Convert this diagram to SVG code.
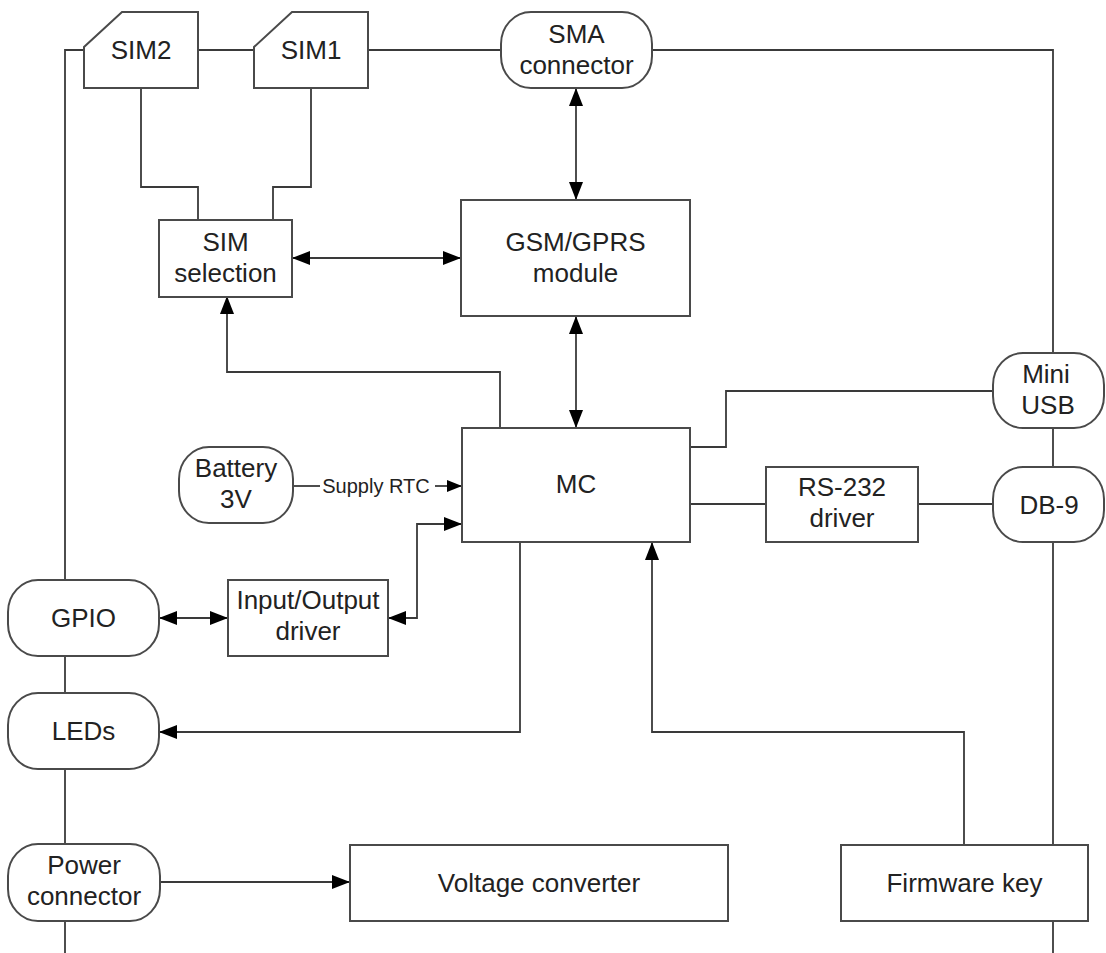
<svg xmlns="http://www.w3.org/2000/svg" width="1106" height="953" viewBox="0 0 1106 953">
<style>
.n{fill:#fff;stroke:#4a4a4a;stroke-width:2}
.t{font-family:"Liberation Sans",Arial,sans-serif;font-size:26px;fill:#222;text-anchor:middle}
.s{font-family:"Liberation Sans",Arial,sans-serif;font-size:20px;fill:#222;text-anchor:middle}
.c{fill:none;stroke:#3a3a3a;stroke-width:1.8}
.a{marker-end:url(#ah)}
.b{marker-start:url(#ah);marker-end:url(#ah)}
.as{marker-end:url(#ahs)}
</style>
<defs>
<marker id="ah" viewBox="0 0 18 14" refX="18" refY="7" markerWidth="18" markerHeight="14" markerUnits="userSpaceOnUse" orient="auto-start-reverse">
<path d="M0,0 L18,7 L0,14 z" fill="#000"/>
</marker>
<marker id="ahs" viewBox="0 0 15 12" refX="15" refY="6" markerWidth="15" markerHeight="12" markerUnits="userSpaceOnUse" orient="auto">
<path d="M0,0 L15,6 L0,12 z" fill="#000"/>
</marker>
</defs>
<rect width="1106" height="953" fill="#fff"/>
<g id="connectors">
<path class="c" d="M84,50 H65 V580"/>
<path class="c" d="M65,656 V693"/>
<path class="c" d="M65,769 V844"/>
<path class="c" d="M65,921 V953"/>
<path class="c" d="M198,50 H254"/>
<path class="c" d="M368,50 H501"/>
<path class="c" d="M652,50 H1053 V353"/>
<path class="c" d="M1053,428 V467"/>
<path class="c" d="M1053,542 V845"/>
<path class="c" d="M1053,921 V953"/>
<path class="c" d="M141,88 V187 H198 V220"/>
<path class="c" d="M311,88 V187 H273 V220"/>
<path class="c b" d="M576,88 V200"/>
<path class="c b" d="M292,258 H461"/>
<path class="c b" d="M576,316 V428"/>
<path class="c a" d="M576,428 H500 V372 H227 V296"/>
<path class="c" d="M993,391 H726 V447 H690 V504"/>
<path class="c" d="M690,504 H766"/>
<path class="c" d="M918,504 H993"/>
<path class="c" d="M293,486 H320"/>
<path class="c as" d="M435,486 H462"/>
<text class="s" x="376" y="493">Supply RTC</text>
<path class="c b" d="M462,524 H417 V618 H388"/>
<path class="c b" d="M159,618 H228"/>
<path class="c a" d="M576,542 H520 V732 H159"/>
<path class="c a" d="M964,845 V732 H652 V542"/>
<path class="c a" d="M160,882 H350"/>
</g>
<g id="sim2">
<polygon class="n" points="122,12 198,12 198,88 84,88 84,47"/>
<text class="t" x="141" y="59">SIM2</text>
</g>
<g id="sim1">
<polygon class="n" points="292,12 368,12 368,88 254,88 254,47"/>
<text class="t" x="311" y="59">SIM1</text>
</g>
<g id="sma">
<rect class="n" x="501" y="12" width="151" height="76" rx="30" ry="32"/>
<text class="t" x="576.5" y="43">SMA</text>
<text class="t" x="576.5" y="74">connector</text>
</g>
<g id="simsel">
<rect class="n" x="159" y="220" width="133" height="77"/>
<text class="t" x="225.5" y="251">SIM</text>
<text class="t" x="225.5" y="282">selection</text>
</g>
<g id="gsm">
<rect class="n" x="461" y="200" width="229" height="116"/>
<text class="t" x="575.5" y="251">GSM/GPRS</text>
<text class="t" x="575.5" y="282">module</text>
</g>
<g id="mc">
<rect class="n" x="462" y="428" width="228" height="114" fill-opacity="0"/>
<text class="t" x="576" y="493">MC</text>
</g>
<g id="miniusb">
<rect class="n" x="993" y="353" width="111" height="75" rx="30" ry="32"/>
<text class="t" x="1046" y="383">Mini</text>
<text class="t" x="1048" y="414">USB</text>
</g>
<g id="db9">
<rect class="n" x="993" y="467" width="111" height="75" rx="30" ry="32"/>
<text class="t" x="1049" y="514">DB-9</text>
</g>
<g id="rs232">
<rect class="n" x="766" y="467" width="152" height="75"/>
<text class="t" x="842" y="496">RS-232</text>
<text class="t" x="842" y="527">driver</text>
</g>
<g id="battery">
<rect class="n" x="179" y="447" width="114" height="76" rx="30" ry="32"/>
<text class="t" x="236" y="477">Battery</text>
<text class="t" x="236" y="508">3V</text>
</g>
<g id="gpio">
<rect class="n" x="8" y="580" width="151" height="76" rx="30" ry="32"/>
<text class="t" x="83.5" y="627">GPIO</text>
</g>
<g id="iodriver">
<rect class="n" x="228" y="580" width="160" height="76"/>
<text class="t" x="308" y="609">Input/Output</text>
<text class="t" x="308" y="640">driver</text>
</g>
<g id="leds">
<rect class="n" x="8" y="693" width="151" height="76" rx="30" ry="32"/>
<text class="t" x="83.5" y="740">LEDs</text>
</g>
<g id="power">
<rect class="n" x="8" y="844" width="152" height="77" rx="30" ry="32"/>
<text class="t" x="84" y="874">Power</text>
<text class="t" x="84" y="905">connector</text>
</g>
<g id="voltage">
<rect class="n" x="350" y="845" width="378" height="76"/>
<text class="t" x="539" y="892">Voltage converter</text>
</g>
<g id="firmware">
<rect class="n" x="841" y="845" width="247" height="76"/>
<text class="t" x="964.5" y="892">Firmware key</text>
</g>
</svg>
